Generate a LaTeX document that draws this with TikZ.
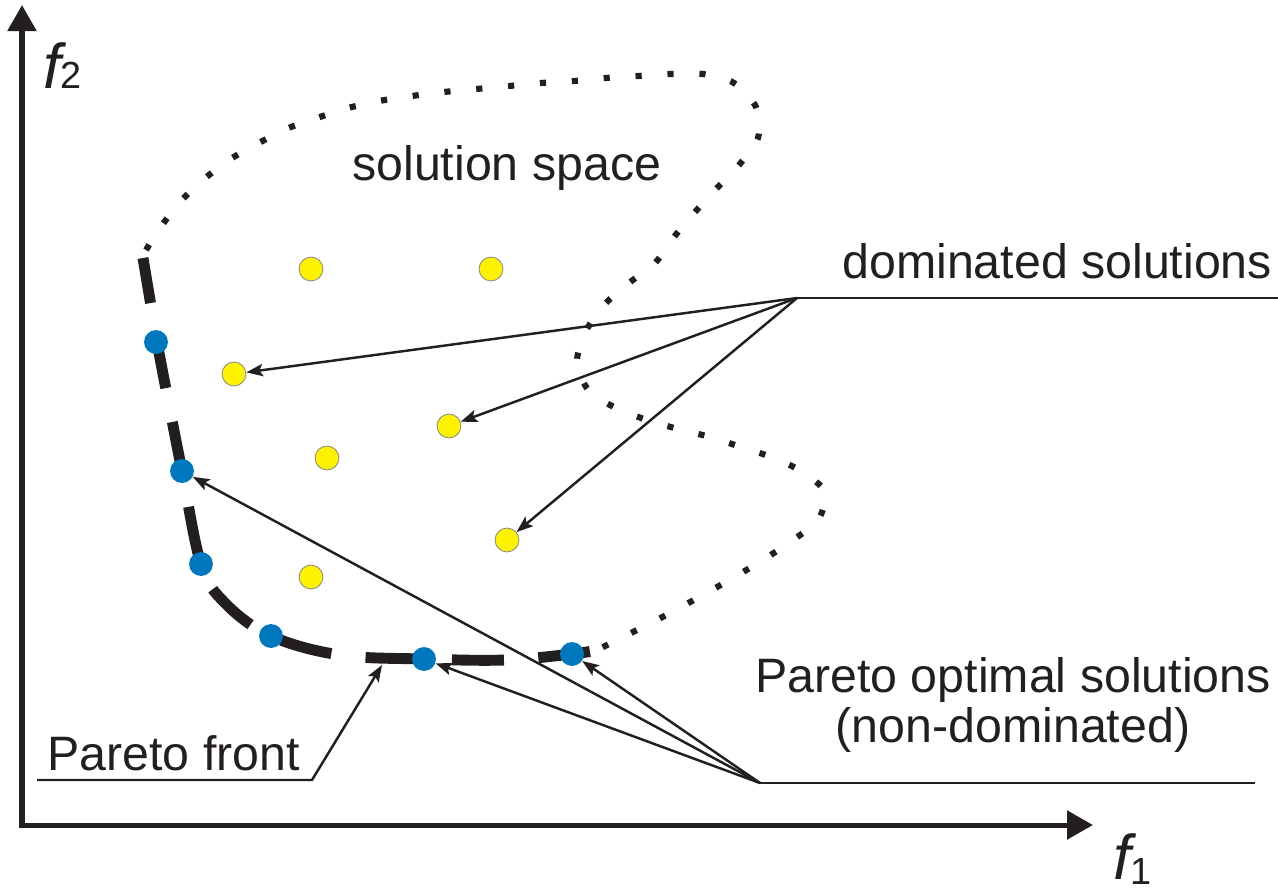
\documentclass[tikz,border=0pt]{standalone}
\usepackage{fontspec}
\setmainfont{Liberation Sans}
\usetikzlibrary{arrows.meta}
\definecolor{ink}{RGB}{35,31,32}
\definecolor{pblue}{RGB}{0,120,192}
\definecolor{pyellow}{RGB}{255,242,0}
\begin{document}
\begin{tikzpicture}[x=0.02cm,y=-0.02cm,
  axisline/.style={ink, line width=2.85pt, line join=miter,
    {Triangle[length=14.8pt,width=16pt]}-{Triangle[length=14.8pt,width=16pt]}},
  lbl/.style={font=\fontsize{27.5}{28.5}\selectfont, text=ink, inner sep=0pt},
  ptr/.style={ink, line width=1.4pt, -{Stealth[length=9.5pt,width=7pt,inset=2pt]}},
  lead/.style={ink, line width=1.4pt},
  bluedot/.style={circle, fill=pblue, minimum size=13.6pt, inner sep=0pt},
  yeldot/.style={circle, fill=pyellow, draw=black!45, line width=0.5pt, minimum size=13.6pt, inner sep=0pt},
  frontline/.style={ink, line width=6.2pt, dash pattern=on 29.6pt off 19.6pt, dash phase=3.6pt},
  spaceline/.style={ink, line width=3.5pt, dash pattern=on 3.5pt off 14.7pt},
]
\useasboundingbox (0,0) rectangle (1278,893);

% axes
\coordinate (ytip) at (22,5);
\coordinate (O) at (22,825);
\coordinate (xtip) at (1093,825);
\draw[axisline] (ytip) -- (O) -- (xtip);
\node[anchor=base west, inner sep=0pt, text=ink] (f2) at (43,88)
  {\fontsize{36}{36}\selectfont\itshape f\upshape\fontsize{21.5}{21.5}\selectfont 2};
\node[anchor=base west, inner sep=0pt, text=ink] (f1) at (1113,879)
  {\fontsize{36}{36}\selectfont\itshape f\upshape\fontsize{21.5}{21.5}\selectfont\raisebox{-3pt}{1}};

% solution space outline
\draw[spaceline] plot[smooth, tension=0.5] coordinates {
 (146,250) (160,228) (180,202) (203,180) (229,160) (257,144) (286,129) (317,118)
 (348,108) (379,101) (412,96) (444,92) (476,89) (509,86) (541,83) (574,81) (606,78)
 (638,76) (671,74) (703,74) (734,83) (756,107) (758,138) (739,165) (717,188) (695,212)
 (674,237) (655,263) (629,283) (605,304) (586,331) (577,362) (589,391) (616,408)
 (647,420) (678,429) (710,437) (741,447) (771,457) (801,471) (825,492) (818,520)
 (793,540) (766,558) (738,575) (710,591) (681,607) (653,622) (623,637) (597,650)};

% Pareto front
\draw[frontline] plot[smooth, tension=0.6] coordinates {
 (143,258) (150,300) (157,342) (170,410) (182,471) (201,564) (225,603) (271,636)
 (340,655) (424,659) (505,660) (572,654) (597,650)};

% solutions
\node[yeldot] (y1) at (311,269) {};
\node[yeldot] (y2) at (491,269) {};
\node[yeldot] (y3) at (234,374) {};
\node[yeldot] (y4) at (449,426) {};
\node[yeldot] (y5) at (327,458) {};
\node[yeldot] (y6) at (507,540) {};
\node[yeldot] (y7) at (311,577) {};
\node[bluedot] (b1) at (156,342) {};
\node[bluedot] (b2) at (182,471) {};
\node[bluedot] (b3) at (201,564) {};
\node[bluedot] (b4) at (271,636) {};
\node[bluedot] (b5) at (424,659) {};
\node[bluedot] (b6) at (572,654) {};

% labels
\node[lbl, anchor=base west] (ss) at (352,180) {solution space};
\node[lbl, anchor=base west] (dom) at (842,278) {dominated solutions};
\node[lbl, anchor=base] (po1) at (1013,692) {Pareto optimal solutions};
\node[lbl, anchor=base] (po2) at (1013,742) {(non-dominated)};
\node[lbl, anchor=base west] (pfl) at (47,770) {Pareto front};

% dominated pointers
\coordinate (dk) at (797,298);
\coordinate (dr) at (1278,298);
\draw[lead] (dk) -- (dr);
\draw[ptr] (dk) -- (y3);
\draw[ptr] (dk) -- (y4);
\draw[ptr] (dk) -- (y6);

% Pareto optimal pointers
\coordinate (pk) at (760,783);
\coordinate (pr) at (1255,783);
\draw[lead] (pk) -- (pr);
\draw[ptr] (pk) -- (b2);
\draw[ptr] (pk) -- (b5);
\draw[ptr] (pk) -- (b6);

% Pareto front pointer
\coordinate (fs) at (37,780);
\coordinate (fk) at (312,780);
\coordinate (ft) at (382,665);
\draw[ptr] (fs) -- (fk) -- (ft);
\end{tikzpicture}
\end{document}
